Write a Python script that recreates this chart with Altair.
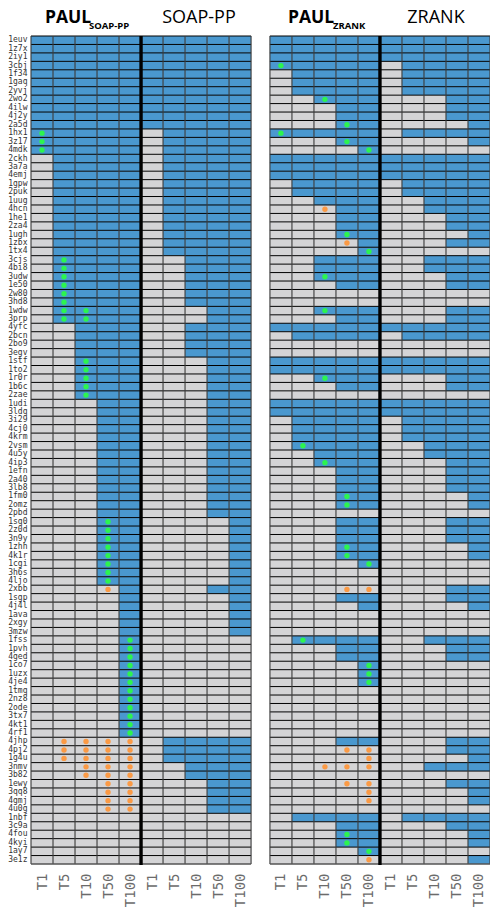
import altair as alt
import pandas as pd

rows = ["1euv","1z7x","2iy1","3cbj","1f34","1gaq","2yvj","2wo2","4ilw","4j2y","2a5d","1hx1","3z17","4mdk",
"2ckh","3a7a","4emj","1gpw","2puk","1uug","4hcn","1he1","2za4","1ugh","1zbx","1tx4","3cjs","4bi8","3udw",
"1e50","2w80","3hd8","1wdw","3prp","4yfc","2bcn","2bo9","3egv","1stf","1to2","1r0r","1b6c","2zae","1udi",
"3ldq","3i29","4cj0","4krm","2vsm","4u5y","4ip3","1efn","2a40","3lb8","1fm0","2omz","2pbd","1sq0","2z0d",
"3n9y","1zhh","4k1r","1cgi","3h6s","4ljo","2xbb","1sgp","4j4l","1ava","2xgy","3mzw","1fss","1pvh","4ged",
"1co7","1uzx","4je4","1tmq","2nz8","2ode","3tx7","4kt1","4rf1","4jhp","4pj2","1g4u","3nmv","3b82","1ewy",
"3qq8","4gmj","4u0g","1nbf","3c9a","4fou","4kyi","1ay7","3e1z"]
tops = ["T1", "T5", "T10", "T50", "T100"]

# index of the first top-N column that holds a hit, per row (5 = no hit)
soap_paul = [0,0,0,0,0,0,0,0,0,0,0,0,0,0, 1,1,1,1,1,1,1,1,1,1,1,1,1,1,1,1,1,1,1,1,
             2,2,2,2,2,2,2,2,2, 3,3,3,3,3,3,3,3,3,3,3,3,3,3,3,3,3,3,3,3,3,3,
             4,4,4,4,4,4,4,4,4,4,4,4,4,4,4,4,4,4, 5,5,5,5,5,5,5,5,5,5,5,5,5,5,5]
soap_base = [0,0,0,0,0,0,0,0,0,0,0, 1,1,1,1,1,1,1,1,1,1,1,1,1,1,1, 2,2,2,2,2,2, 3,3, 2,2,2,2,
             3,3,3,3,3,3,3,3,3,3,3,3,3,3,3,3,3,3,3, 4,4,4,4,4,4,4,4, 3, 4,4,4,4,4,
             5,5,5,5,5,5,5,5,5,5,5,5, 1,1,1, 2,2, 3,3,3,3, 5,5,5,5,5,5]
zrank_paul = [0,0,0,0,1,1,1,2,3,3,3,0,3,4,0,0,0,1,1,2,3,3,3,3,4,4,2,2,2,3,5,5,2,3,0,1,5,5,0,0,2,3,5,
              0,0,1,1,1,1,2,2,3,3,3,3,3,5,3,3,3,3,3,4,5,5,5,3,4,5,5,5,1,3,3,4,4,4,5,5,5,5,5,5,
              3,5,5,5,5,5,5,5,5,1,3,3,3,4,5]
zrank_base = [0,0,0,1,1,1,1,3,3,3,4,1,4,5,0,0,0,1,1,2,2,3,3,4,3,5,2,2,3,3,5,5,3,3,0,1,5,5,0,0,3,3,5,
              0,0,1,1,1,2,2,3,3,3,3,4,4,5,3,3,3,4,4,5,5,5,3,3,4,5,5,5,2,3,3,5,5,5,5,5,5,5,5,5,
              3,3,4,2,5,3,4,4,5,1,3,4,4,5,4]

BLUE, GREY = "#4a98cf", "#d4d4d6"
GREEN, ORANGE = "#2cf44f", "#fb9a45"
MONO = "DejaVu Sans Mono"
TITLE = "Open Sans"
WIDTH, HEIGHT = 459, 828       # the page leaves 482px for the whole drawing
GAP = 0.856                    # space between the two panels, in columns
STARTS = [0, 5, 10 + GAP, 15 + GAP]   # left edge of the four method blocks
TOTAL = 20 + GAP

cells, dots = [], []
for start, series in zip(STARTS, [soap_paul, soap_base, zrank_paul, zrank_base]):
    for r, name in enumerate(rows):
        for c in range(5):
            cells.append({"row": name, "x0": start + c, "x1": start + c + 1,
                          "state": "hit" if c >= series[r] else "miss"})
for start, paul, base in [(STARTS[0], soap_paul, soap_base), (STARTS[2], zrank_paul, zrank_base)]:
    for r, name in enumerate(rows):
        for c in range(5):
            hit_p, hit_b = c >= paul[r], c >= base[r]
            if hit_p != hit_b:
                dots.append({"row": name, "xc": start + c + 0.5, "state": "gain" if hit_p else "loss"})

xscale = alt.Scale(domain=[0, TOTAL], range=[0, WIDTH], nice=False, zero=False)
yscale = alt.Scale(domain=rows, paddingInner=0, paddingOuter=0)
colors = alt.Scale(domain=["hit", "miss", "gain", "loss"], range=[BLUE, GREY, GREEN, ORANGE])

centres = [s + c + 0.5 for s in (STARTS[0], STARTS[2]) for c in range(10)]
label_expr = ("['T1','T5','T10','T50','T100'][floor(datum.value < 10 ? datum.value : datum.value - %s) %% 5]" % GAP)
xaxis = alt.Axis(values=centres, labelExpr=label_expr, labelAngle=270, labelAlign="right", labelBaseline="middle",
                 labelFont=MONO, labelFontSize=14, labelColor="#6b6b6b", labelPadding=9, ticks=False, domain=False,
                 grid=False, labelFlush=False, labelOverlap=False, labelBound=False, labelSeparation=0, title=None)
yaxis = alt.Axis(labelFont=MONO, labelFontSize=8, labelColor="#333333", labelPadding=4, ticks=False, domain=False,
                 grid=False, labelOverlap=False, title=None)


def X(field):
    return alt.X(field, scale=xscale, axis=xaxis, title=None)


def Y(**kw):
    return alt.Y("row:N", sort=rows, scale=yscale, axis=yaxis, title=None, **kw)


rects = alt.Chart(pd.DataFrame(cells)).mark_rect().encode(
    x=X("x0:Q"), x2="x1:Q", y=Y(),
    color=alt.Color("state:N", scale=colors, legend=None),
)
points = alt.Chart(pd.DataFrame(dots)).mark_circle(size=29, opacity=1).encode(
    x=X("xc:Q"), y=Y(),
    color=alt.Color("state:N", scale=colors, legend=None),
)

# row separators, drawn panel by panel so the space between panels stays empty
hlines = pd.DataFrame([{"row": n, "a": a, "b": a + 10} for a in (STARTS[0], STARTS[2]) for n in rows])
hrules = alt.Chart(hlines).mark_rule(color="#000000", strokeWidth=1).encode(
    x=X("a:Q"), x2="b:Q", y=Y(bandPosition=0),
)
vlines = pd.DataFrame([{"v": a + k} for a in (STARTS[0], STARTS[2]) for k in range(11) if k != 5])
vrules = alt.Chart(vlines).mark_rule(color="#3c3c3c", strokeWidth=1.5, opacity=0.75).encode(
    x=X("v:Q"), y=alt.value(0), y2=alt.value(HEIGHT))
splits = pd.DataFrame({"v": [STARTS[0] + 5, STARTS[2] + 5]})
srules = alt.Chart(splits).mark_rule(color="#000000", strokeWidth=3.4).encode(
    x=X("v:Q"), y=alt.value(0), y2=alt.value(HEIGHT + 1))
bottoms = pd.DataFrame({"a": [STARTS[0], STARTS[2]], "b": [STARTS[0] + 10, STARTS[2] + 10]})
brules = alt.Chart(bottoms).mark_rule(color="#555555", strokeWidth=1.5).encode(
    x=X("a:Q"), x2="b:Q", y=alt.value(HEIGHT))

one = alt.Data(values=[{"k": 1}])


def label(text, xpos, ypos, size, weight, align):
    return alt.Chart(one).mark_text(text=text, font=TITLE, fontSize=size, fontWeight=weight, align=align,
                                    baseline="alphabetic", color="#000000").encode(
        x=alt.value(xpos), y=alt.value(ypos))


titles = [
    label("PAUL", 14, -13, 17.5, "bold", "left"),
    label("SOAP-PP", 58, -7, 9.5, "bold", "left"),
    label("SOAP-PP", 168, -13, 18, "normal", "center"),
    label("PAUL", 257, -13, 17.5, "bold", "left"),
    label("ZRANK", 302, -7, 9.5, "bold", "left"),
    label("ZRANK", 405, -13, 18, "normal", "center"),
]

chart = alt.layer(rects, points, hrules, vrules, brules, srules, *titles).properties(
    width=WIDTH, height=HEIGHT,
    autosize=alt.AutoSizeParams(type="none"),
    padding={"left": 23, "top": 28, "right": 0, "bottom": 44},
).configure_view(stroke=None).configure_axis(labelOverlap=False)

chart.save("out.html", embed_options={"renderer": "svg", "actions": False})
